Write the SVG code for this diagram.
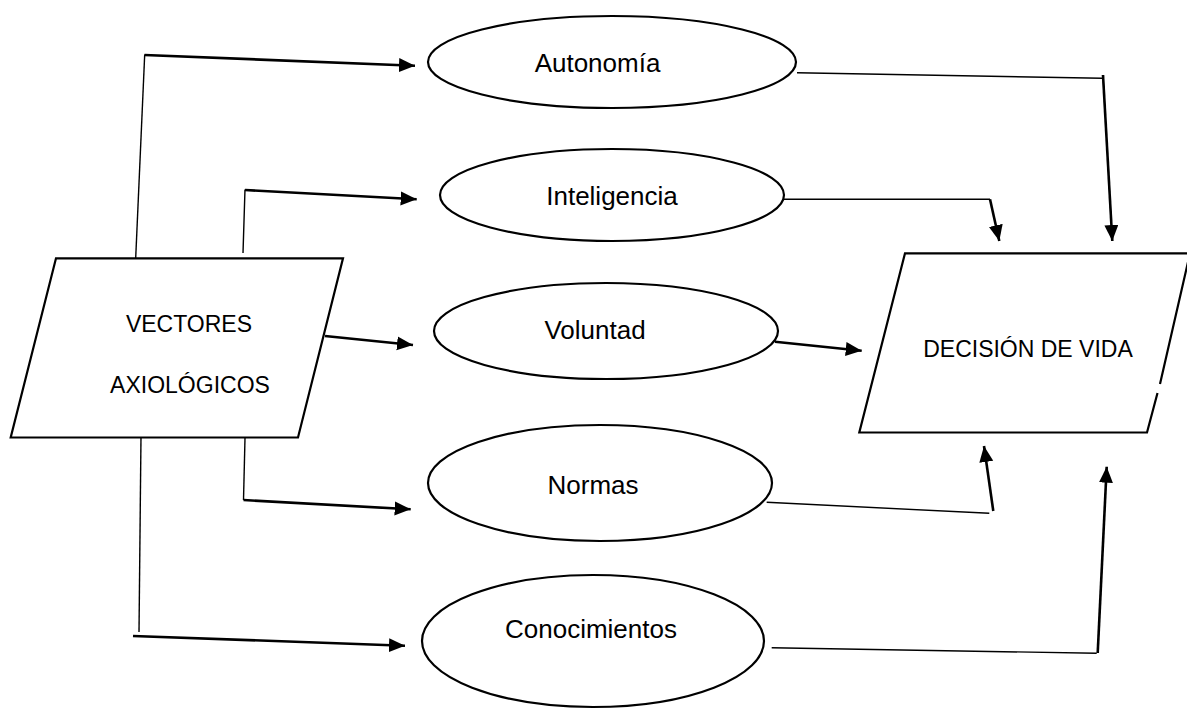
<svg xmlns="http://www.w3.org/2000/svg" width="1187" height="709" viewBox="0 0 1187 709">
<defs>
<marker id="ah" markerUnits="userSpaceOnUse" markerWidth="18" markerHeight="16" refX="16" refY="7" orient="auto">
<path d="M0,0 L16,7 L0,14 z" fill="#000"/>
</marker>
<style>
.shape{fill:#fff;stroke:#000;stroke-width:2.2}
.thin{fill:none;stroke:#000;stroke-width:1.4}
.thick{fill:none;stroke:#000;stroke-width:2.6;marker-end:url(#ah)}
.lc{font-family:"Liberation Sans",Arial,sans-serif;font-size:26px;fill:#000}
.uc{font-family:"Liberation Sans",Arial,sans-serif;font-size:23px;fill:#000}
</style>
</defs>
<rect width="1187" height="709" fill="#fff"/>
<g id="connectors">
<polyline class="thin" points="135.7,258 144.7,54.5"/>
<line class="thick" x1="144.5" y1="55" x2="415" y2="65.7"/>
<polyline class="thin" points="243,253 245,189.5"/>
<line class="thick" x1="245" y1="190" x2="416.7" y2="199.3"/>
<line class="thick" x1="325" y1="336" x2="413" y2="345"/>
<polyline class="thin" points="245,438 243.5,500"/>
<line class="thick" x1="243.5" y1="500" x2="410.7" y2="509.3"/>
<polyline class="thin" points="141,436 139,632"/>
<line class="thick" x1="133" y1="636" x2="405" y2="645.7"/>
<polyline class="thin" points="797,72.7 1102,78.3"/>
<line class="thick" x1="1103" y1="75" x2="1112.3" y2="241"/>
<polyline class="thin" points="778,199.3 990,199.3"/>
<line class="thick" x1="990" y1="199.3" x2="999.3" y2="241"/>
<line class="thick" x1="775" y1="341.7" x2="861.7" y2="350.7"/>
<polyline class="thin" points="766.7,502.3 989.3,513.3"/>
<line class="thick" x1="993.3" y1="511" x2="984" y2="446"/>
<polyline class="thin" points="771.7,647.7 1096.7,653.3"/>
<line class="thick" x1="1097.7" y1="653" x2="1106.7" y2="466.7"/>
</g>
<g id="vectores">
<polygon class="shape" points="56,258.3 343,258.3 298,437.5 10.7,437.5"/>
<text class="uc" x="189" y="331.7" text-anchor="middle">VECTORES</text>
<text class="uc" x="190" y="393" text-anchor="middle">AXIOLÓGICOS</text>
</g>
<g id="decision">
<polygon points="905,253.3 1190,253.3 1147,432.5 859.3,432.5" fill="#fff" stroke="none"/>
<path d="M1157.5,393 L1147,432.5 L859.3,432.5 L905,253.3 L1190,253.3 L1160,384" fill="none" stroke="#000" stroke-width="2.2"/>
<text class="uc" x="1028" y="356.7" text-anchor="middle">DECISIÓN DE VIDA</text>
</g>
<g id="autonomia">
<ellipse class="shape" cx="612" cy="62" rx="184" ry="46"/>
<text class="lc" x="597.5" y="71.7" text-anchor="middle">Autonomía</text>
</g>
<g id="inteligencia">
<ellipse class="shape" cx="612" cy="195" rx="172" ry="46"/>
<text class="lc" x="612" y="205" text-anchor="middle">Inteligencia</text>
</g>
<g id="voluntad">
<ellipse class="shape" cx="606" cy="331" rx="172" ry="48"/>
<text class="lc" x="595" y="339.3" text-anchor="middle">Voluntad</text>
</g>
<g id="normas">
<ellipse class="shape" cx="600" cy="483" rx="172" ry="58"/>
<text class="lc" x="593" y="494" text-anchor="middle">Normas</text>
</g>
<g id="conocimientos">
<ellipse class="shape" cx="593" cy="641" rx="171" ry="66"/>
<text class="lc" x="591" y="638.3" text-anchor="middle">Conocimientos</text>
</g>
</svg>
